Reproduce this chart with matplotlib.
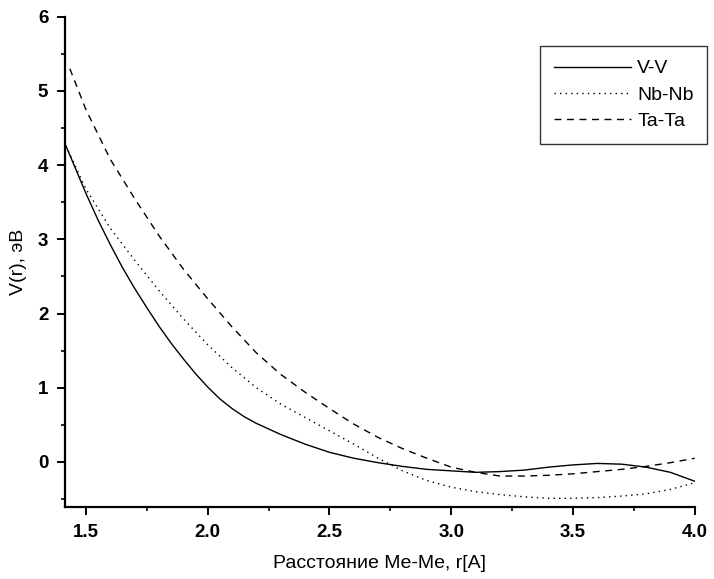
import numpy as np
import matplotlib
matplotlib.use("Agg")
import matplotlib.pyplot as plt
from matplotlib.ticker import MultipleLocator

# values
vv_r = [1.418, 1.5, 1.55, 1.6, 1.65, 1.7, 1.75, 1.8, 1.85, 1.9, 1.95, 2.0, 2.05, 2.1, 2.15, 2.2,
        2.3, 2.4, 2.5, 2.6, 2.7, 2.8, 2.9, 3.0, 3.1, 3.2, 3.3, 3.4, 3.5, 3.6, 3.7, 3.8, 3.9, 4.0]
vv_v = [4.26, 3.62, 3.26, 2.93, 2.62, 2.34, 2.08, 1.83, 1.60, 1.39, 1.19, 1.01, 0.85, 0.72, 0.61, 0.52,
        0.37, 0.24, 0.13, 0.05, -0.01, -0.06, -0.10, -0.12, -0.14, -0.13, -0.11, -0.07, -0.04, -0.02,
        -0.03, -0.07, -0.14, -0.26]

nb_r = [1.418, 1.5, 1.6, 1.7, 1.8, 1.9, 2.0, 2.1, 2.2, 2.3, 2.4, 2.5, 2.6, 2.7, 2.8, 2.9,
        3.0, 3.1, 3.2, 3.3, 3.4, 3.5, 3.6, 3.7, 3.8, 3.9, 4.0]
nb_v = [4.26, 3.68, 3.15, 2.72, 2.31, 1.93, 1.58, 1.27, 1.00, 0.78, 0.60, 0.42, 0.24, 0.05, -0.12, -0.25,
        -0.34, -0.40, -0.44, -0.47, -0.49, -0.49, -0.48, -0.46, -0.43, -0.37, -0.28]

ta_r = [1.434, 1.5, 1.6, 1.7, 1.8, 1.9, 2.0, 2.1, 2.2, 2.3, 2.4, 2.5, 2.6, 2.7, 2.8, 2.9,
        3.0, 3.1, 3.2, 3.3, 3.4, 3.5, 3.6, 3.7, 3.8, 3.9, 4.0]
ta_v = [5.30, 4.75, 4.08, 3.55, 3.05, 2.60, 2.20, 1.82, 1.47, 1.18, 0.94, 0.72, 0.51, 0.33, 0.18, 0.05,
        -0.07, -0.14, -0.19, -0.19, -0.18, -0.16, -0.13, -0.10, -0.06, -0.01, 0.05]

labels = ["V-V", "Nb-Nb", "Ta-Ta"]

plt.rcParams["font.family"] = ["Liberation Sans", "DejaVu Sans"]

fig = plt.figure(figsize=(7.14, 5.79), dpi=100)
ax = fig.add_axes([0.091, 0.124, 0.882, 0.847])

ax.plot(vv_r, vv_v, color="black", linewidth=1.0, linestyle="-", label=labels[0])
ax.plot(nb_r, nb_v, color="black", linewidth=1.0, linestyle=(0, (1, 3)), label=labels[1])
ax.plot(ta_r, ta_v, color="black", linewidth=1.0, linestyle=(0, (5, 4)), label=labels[2])

ax.set_xlim(1.414, 4.0)
ax.set_ylim(-0.61, 6.0)

ax.xaxis.set_major_locator(MultipleLocator(0.5))
ax.xaxis.set_minor_locator(MultipleLocator(0.25))
ax.yaxis.set_major_locator(MultipleLocator(1))
ax.yaxis.set_minor_locator(MultipleLocator(0.5))
ax.xaxis.set_major_formatter(plt.FormatStrFormatter("%.1f"))

for side in ["top", "right"]:
    ax.spines[side].set_visible(False)
for side in ["left", "bottom"]:
    ax.spines[side].set_linewidth(1.6)

ax.tick_params(which="major", direction="out", length=6, width=1.4, labelsize=13.5, pad=6)
ax.tick_params(which="minor", direction="out", length=3, width=1.2)
for lab in ax.get_xticklabels() + ax.get_yticklabels():
    lab.set_fontweight("bold")

ax.set_xlabel("Расстояние Me-Me, r[A]", fontsize=14, labelpad=10)
ax.set_ylabel("V(r), эВ", fontsize=14, labelpad=8)

leg = ax.legend(loc="upper right", bbox_to_anchor=(1.02, 0.94), fontsize=14, frameon=True,
                fancybox=False, handlelength=4.0, handletextpad=0.3, borderpad=0.7,
                labelspacing=0.45, borderaxespad=0.0)
leg.get_frame().set_edgecolor("black")
leg.get_frame().set_linewidth(1.0)

plt.savefig("out.png", dpi=100)
